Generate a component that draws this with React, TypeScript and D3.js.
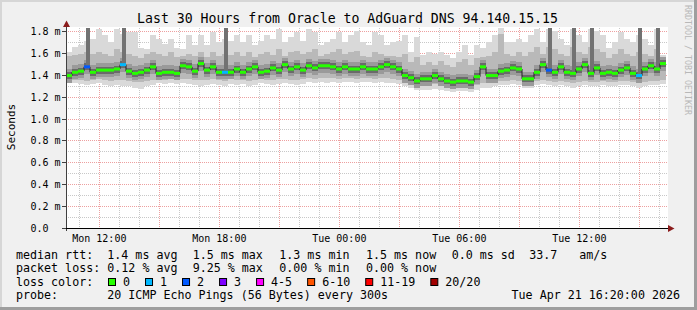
import React from 'react';
import * as d3 from 'd3';

// ---------- data ----------
const TITLE = 'Last 30 Hours from Oracle to AdGuard DNS 94.140.15.15';
const START = new Date(2026, 3, 20, 10, 20);
const END = new Date(2026, 3, 21, 16, 20);
const STEP_MIN = 18;

const median = [
  1.40, 1.43, 1.44, 1.48, 1.43, 1.45, 1.45, 1.45, 1.46, 1.50, 1.44, 1.42, 1.43, 1.45, 1.48, 1.42, 1.43, 1.43, 1.42, 1.49,
  1.48, 1.44, 1.51, 1.45, 1.48, 1.43, 1.43, 1.43, 1.46, 1.43, 1.46, 1.48, 1.43, 1.44, 1.47, 1.45, 1.50, 1.46, 1.48, 1.45,
  1.49, 1.47, 1.49, 1.49, 1.48, 1.46, 1.48, 1.46, 1.46, 1.48, 1.46, 1.46, 1.48, 1.50, 1.48, 1.46, 1.40, 1.38, 1.35, 1.37,
  1.37, 1.40, 1.37, 1.35, 1.34, 1.35, 1.35, 1.34, 1.39, 1.48, 1.40, 1.40, 1.44, 1.45, 1.47, 1.46, 1.37, 1.37, 1.43, 1.50,
  1.45, 1.43, 1.48, 1.43, 1.42, 1.46, 1.50, 1.42, 1.47, 1.42, 1.43, 1.42, 1.45, 1.47, 1.42, 1.40, 1.46, 1.49, 1.46, 1.51,
];
const lossCount = [
  0, 0, 0, 2, 0, 0, 0, 0, 0, 1, 0, 0, 0, 0, 0, 0, 0, 0, 0, 0,
  0, 0, 0, 0, 0, 0, 1, 0, 0, 0, 0, 0, 0, 0, 0, 0, 0, 0, 0, 0,
  0, 0, 0, 0, 0, 0, 0, 0, 0, 0, 0, 0, 0, 0, 0, 0, 0, 0, 0, 0,
  0, 0, 0, 0, 0, 0, 0, 0, 0, 0, 0, 0, 0, 0, 0, 0, 0, 0, 0, 0,
  2, 0, 0, 0, 0, 0, 0, 0, 0, 0, 0, 0, 0, 0, 0, 1, 0, 0, 0, 0,
];
const smokeHi = [
  1.62, 1.66, 1.68, 1.72, 1.74, 1.83, 1.77, 1.71, 1.83, 1.78, 1.80, 1.80, 1.65, 1.64, 1.77, 1.74, 1.69, 1.74, 1.65, 1.64,
  1.77, 1.68, 1.77, 1.68, 1.80, 1.71, 1.74, 1.72, 1.77, 1.71, 1.77, 1.68, 1.72, 1.77, 1.74, 1.83, 1.71, 1.75, 1.80, 1.72,
  1.83, 1.80, 1.68, 1.71, 1.74, 1.80, 1.71, 1.77, 1.81, 1.71, 1.68, 1.80, 1.77, 1.68, 1.71, 1.72, 1.77, 1.62, 1.75, 1.59,
  1.62, 1.60, 1.62, 1.59, 1.56, 1.62, 1.68, 1.59, 1.68, 1.65, 1.71, 1.77, 1.84, 1.71, 1.71, 1.74, 1.71, 1.77, 1.83, 1.71,
  1.83, 1.81, 1.74, 1.68, 1.83, 1.77, 1.71, 1.83, 1.81, 1.77, 1.65, 1.71, 1.80, 1.74, 1.71, 1.77, 1.74, 1.68, 1.83, 1.59,
];
const smokeUp = [
  1.58, 1.59, 1.60, 1.62, 1.60, 1.62, 1.60, 1.58, 1.64, 1.62, 1.60, 1.58, 1.56, 1.60, 1.62, 1.60, 1.58, 1.62, 1.57, 1.58,
  1.60, 1.58, 1.62, 1.57, 1.62, 1.58, 1.60, 1.59, 1.62, 1.58, 1.62, 1.57, 1.60, 1.62, 1.59, 1.64, 1.58, 1.62, 1.63, 1.60,
  1.62, 1.64, 1.58, 1.60, 1.62, 1.64, 1.60, 1.62, 1.63, 1.58, 1.57, 1.62, 1.60, 1.58, 1.58, 1.57, 1.60, 1.52, 1.57, 1.50,
  1.52, 1.50, 1.53, 1.50, 1.48, 1.52, 1.55, 1.50, 1.56, 1.57, 1.58, 1.62, 1.78, 1.60, 1.58, 1.62, 1.58, 1.62, 1.66, 1.60,
  1.66, 1.64, 1.60, 1.58, 1.66, 1.62, 1.60, 1.66, 1.64, 1.62, 1.56, 1.60, 1.64, 1.60, 1.58, 1.62, 1.60, 1.58, 1.64, 1.56,
];
const smokeDown = [
  1.37, 1.36, 1.36, 1.35, 1.36, 1.37, 1.36, 1.35, 1.36, 1.36, 1.35, 1.34, 1.34, 1.35, 1.36, 1.37, 1.36, 1.37, 1.36, 1.37,
  1.37, 1.36, 1.36, 1.36, 1.37, 1.36, 1.35, 1.37, 1.36, 1.36, 1.35, 1.36, 1.37, 1.36, 1.36, 1.37, 1.37, 1.36, 1.36, 1.37,
  1.38, 1.37, 1.38, 1.38, 1.38, 1.37, 1.38, 1.38, 1.37, 1.38, 1.38, 1.37, 1.38, 1.38, 1.37, 1.36, 1.34, 1.33, 1.31, 1.31,
  1.31, 1.32, 1.31, 1.30, 1.29, 1.30, 1.30, 1.29, 1.31, 1.33, 1.33, 1.34, 1.35, 1.35, 1.36, 1.35, 1.33, 1.33, 1.35, 1.36,
  1.35, 1.34, 1.35, 1.34, 1.33, 1.34, 1.35, 1.34, 1.34, 1.35, 1.34, 1.34, 1.35, 1.35, 1.34, 1.33, 1.34, 1.35, 1.35, 1.36,
];
const smokeLo = [
  1.34, 1.33, 1.32, 1.31, 1.32, 1.33, 1.31, 1.30, 1.31, 1.30, 1.30, 1.29, 1.28, 1.30, 1.31, 1.33, 1.32, 1.33, 1.32, 1.33,
  1.32, 1.31, 1.30, 1.31, 1.32, 1.31, 1.30, 1.32, 1.31, 1.32, 1.30, 1.31, 1.33, 1.32, 1.31, 1.32, 1.33, 1.32, 1.31, 1.32,
  1.34, 1.33, 1.34, 1.33, 1.34, 1.33, 1.34, 1.34, 1.33, 1.34, 1.34, 1.33, 1.34, 1.33, 1.33, 1.32, 1.30, 1.29, 1.27, 1.27,
  1.27, 1.28, 1.27, 1.26, 1.25, 1.26, 1.26, 1.25, 1.27, 1.29, 1.29, 1.30, 1.31, 1.31, 1.32, 1.31, 1.29, 1.29, 1.31, 1.32,
  1.31, 1.30, 1.31, 1.30, 1.29, 1.30, 1.31, 1.30, 1.30, 1.31, 1.30, 1.30, 1.31, 1.31, 1.30, 1.29, 1.30, 1.31, 1.31, 1.32,
];
// top of the dark "smoke" columns (0 = none)
const spikeTop = [
  0, 0, 0, 1.84, 0, 0, 0, 0, 0, 1.84, 0, 0, 0, 0, 0, 0, 0, 0, 0, 0,
  0, 0, 0, 0, 0, 0, 1.84, 0, 0, 0, 0, 0, 0, 0, 0, 0, 0, 0, 0, 0,
  0, 0, 0, 0, 0, 0, 0, 0, 0, 0, 0, 0, 0, 0, 0, 0, 0, 0, 0, 0,
  0, 0, 0, 0, 0, 0, 0, 0, 0, 0, 0, 0, 0, 0, 0, 0, 0, 0, 0, 0,
  1.84, 0, 0, 0, 1.84, 0, 0, 1.84, 0, 0, 0, 0, 0, 0, 0, 1.84, 0, 0, 1.84, 0,
];

const yTickValues = [0, 0.2, 0.4, 0.6, 0.8, 1.0, 1.2, 1.4, 1.6, 1.8];
const yTickLabels = ['0.0', '0.2 m', '0.4 m', '0.6 m', '0.8 m', '1.0 m', '1.2 m', '1.4 m', '1.6 m', '1.8 m'];

const lossLabels = ['0', '1', '2', '3', '4-5', '6-10', '11-19', '20/20'];
const lossColors = ['#26ff00', '#00b8ff', '#0059ff', '#7e00ff', '#ff00ff', '#ff5500', '#ff0000', '#a10000'];

const rttStats = ['1.4 ms avg', '1.5 ms max', '1.3 ms min', '1.5 ms now', '0.0 ms sd', '33.7', 'am/s'];
const lossStats = ['0.12 % avg', '9.25 % max', '0.00 % min', '0.00 % now'];
const probeText = '20 ICMP Echo Pings (56 Bytes) every 300s';
const dateText = 'Tue Apr 21 16:20:00 2026';

// ---------- layout ----------
const W = 697, H = 310;
const X0 = 66, X1 = 666, Y0 = 228, YTOP = 28;
const MONO = '"DejaVu Sans Mono", monospace';
const statX = [107.3, 192.7, 279.3, 366, 451.7, 529.3, 579.3];

function lossClass(n: number) {
  if (n <= 3) return n;
  if (n <= 5) return 4;
  if (n <= 10) return 5;
  if (n <= 19) return 6;
  return 7;
}

export default function App() {
  const x = d3.scaleTime().domain([START, END]).range([X0, X1]);
  const y = d3.scaleLinear().domain([0, 1.8367]).range([Y0, YTOP]);
  const crisp = (v: number) => Math.floor(v) + 0.5;
  const YMAX = 1.8367;

  const times = median.map((_, i) => d3.timeMinute.offset(START, i * STEP_MIN));
  const idx = [...median.map((_, i) => i), median.length - 1];
  const tAt = (k: number, j: number) => (k === idx.length - 1 ? END : times[j]);
  const xEnd = (i: number) => (i + 1 < times.length ? x(times[i + 1]) : x(END));

  const band = (lo: number[], hi: number[]) =>
    d3.area<number>()
      .curve(d3.curveStepAfter)
      .x((j, k) => x(tAt(k, j)))
      .y0((j) => y(lo[j]))
      .y1((j) => y(Math.min(hi[j], YMAX)))(idx) || '';

  const medLine = d3.line<number>()
    .curve(d3.curveStepAfter)
    .x((j, k) => x(tAt(k, j)))
    .y((j) => y(median[j]))(idx) || '';

  const minorY = d3.range(1, 19).map((k) => k / 10).filter((v) => Math.round(v * 10) % 2 === 1);
  const hours = d3.timeHour.every(1)!.range(START, END);
  const major = d3.timeHour.every(3)!.range(START, END);
  const labels = d3.timeHour.every(6)!.range(START, END);
  const fmt = d3.timeFormat('%a %H:%M');

  const lossX: number[] = [];
  let cur = 108;
  lossLabels.forEach((l) => { lossX.push(cur); cur += 30 + l.length * 7.02; });

  return (
    <svg width={W} height={H} style={{ position: 'absolute', left: 0, top: 0 }} xmlns="http://www.w3.org/2000/svg">
      {/* frame */}
      <rect x={0} y={0} width={W} height={H} fill="#f0f0f0" />
      <rect x={0} y={0} width={W} height={2} fill="#d6d6d6" />
      <rect x={0} y={0} width={2} height={H} fill="#d6d6d6" />
      <rect x={0} y={H - 3} width={W} height={3} fill="#9e9e9e" />
      <rect x={W - 3} y={0} width={3} height={H} fill="#9e9e9e" />

      {/* canvas */}
      <rect x={X0} y={YTOP - 1} width={668 - X0} height={Y0 - YTOP + 1} fill="#ffffff" />

      {/* grid */}
      <g shapeRendering="crispEdges">
        {hours.map((t, i) => (
          <line key={'vh' + i} x1={crisp(x(t))} x2={crisp(x(t))} y1={YTOP} y2={Y0}
            stroke="#c8c8c8" strokeDasharray="1 1" />
        ))}
        {minorY.map((v, i) => (
          <line key={'hm' + i} x1={X0} x2={668} y1={crisp(y(v))} y2={crisp(y(v))}
            stroke="#c8c8c8" strokeDasharray="1 1" />
        ))}
        {major.map((t, i) => (
          <line key={'vM' + i} x1={crisp(x(t))} x2={crisp(x(t))} y1={YTOP} y2={Y0}
            stroke="#eda0a0" strokeDasharray="1 1" />
        ))}
        {yTickValues.slice(1).map((v, i) => (
          <line key={'hM' + i} x1={X0} x2={668} y1={crisp(y(v))} y2={crisp(y(v))}
            stroke="#eda0a0" strokeDasharray="1 1" />
        ))}
      </g>

      {/* smoke */}
      <g shapeRendering="crispEdges">
        <path d={band(smokeLo, smokeHi)} fill="#d9d9d9" />
        <path d={band(smokeDown, smokeUp)} fill="#b9b9b9" />
        {median.map((m, i) => (
          <rect key={'c1' + i} x={x(times[i])} width={xEnd(i) - x(times[i])} y={y(m) - 7} height={14} fill="#9a9a9a" />
        ))}
        {median.map((m, i) => (
          <rect key={'c2' + i} x={x(times[i])} width={xEnd(i) - x(times[i])} y={y(m) - 3.5} height={7} fill="#6a6a6a" />
        ))}
        {spikeTop.map((s, i) => s > 0 ? (
          <rect key={'sp' + i} x={x(times[i]) + 1.5} width={4} y={y(Math.min(s, YMAX))}
            height={y(median[i]) - y(Math.min(s, YMAX))} fill="#727272" />
        ) : null)}
      </g>
      <path d={medLine} fill="none" stroke="#202020" strokeWidth={1} />

      {/* median coloured by loss */}
      {median.map((m, i) => (
        <rect key={'md' + i} x={x(times[i])} width={xEnd(i) - x(times[i])} y={y(m) - 1.5} height={3}
          fill={lossColors[lossClass(lossCount[i])]} />
      ))}

      {/* axes */}
      <g shapeRendering="crispEdges">
        <line x1={X0 + 0.5} x2={X0 + 0.5} y1={Y0 + 3} y2={24} stroke="#404040" />
        <line x1={62} x2={670} y1={Y0 + 0.5} y2={Y0 + 0.5} stroke="#000" />
        {yTickValues.map((v, i) => (
          <line key={'yt' + i} x1={62} x2={X0} y1={crisp(y(v))} y2={crisp(y(v))} stroke="#404040" />
        ))}
      </g>
      <path d={`M${X0 - 3},${27} L${X0 + 0.5},${20.5} L${X0 + 4},${27} Z`} fill="#8b1c1c" />
      <path d={`M${668},${Y0 - 3} L${674.5},${Y0 + 0.5} L${668},${Y0 + 4} Z`} fill="#8b1c1c" />

      {/* y tick labels */}
      {yTickValues.map((v, i) => (
        <text key={'yl' + i} x={30.5} y={y(v) + 3.5} fontFamily={MONO} fontSize={10} fill="#000">
          {yTickLabels[i]}
        </text>
      ))}
      {/* x tick labels */}
      {labels.map((t, i) => (
        <text key={'xl' + i} x={x(t)} y={241.5} textAnchor="middle" fontFamily={MONO} fontSize={10} fill="#000">
          {fmt(t)}
        </text>
      ))}

      {/* title & axis title */}
      <text x={347.5} y={23} textAnchor="middle" fontFamily={MONO} fontSize={13.2} fill="#000">{TITLE}</text>
      <text transform="translate(14.5,127) rotate(-90)" textAnchor="middle" fontFamily={MONO} fontSize={11} fill="#000">Seconds</text>
      <text transform="translate(685,5) rotate(90)" fontFamily={MONO} fontSize={8.3} fill="#b8b8b8">RRDTOOL / TOBI OETIKER</text>

      {/* legend */}
      <g fontFamily={MONO} fontSize={11.66} fill="#000">
        <text x={16} y={258.5}>median rtt:</text>
        {rttStats.map((s, i) => <text key={'r' + i} x={statX[i]} y={258.5}>{s}</text>)}
        <text x={16} y={272}>packet loss:</text>
        {lossStats.map((s, i) => <text key={'l' + i} x={statX[i]} y={272}>{s}</text>)}
        <text x={16} y={285.5}>loss color:</text>
        {lossLabels.map((l, i) => (
          <g key={'lc' + i}>
            <rect x={lossX[i] + 0.5} y={278.5} width={7} height={7} fill={lossColors[i]} stroke="#000" />
            <text x={lossX[i] + 15} y={285.5}>{l}</text>
          </g>
        ))}
        <text x={16} y={299}>probe:</text>
        <text x={statX[0]} y={299}>{probeText}</text>
        <text x={680} y={299} textAnchor="end">{dateText}</text>
      </g>
    </svg>
  );
}
